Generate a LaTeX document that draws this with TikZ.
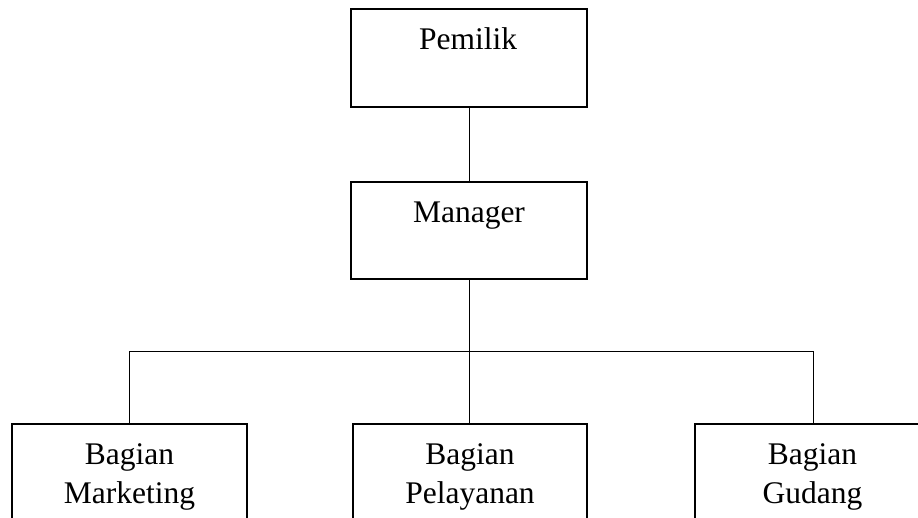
\documentclass[tikz,border=0pt]{standalone}
\usepackage{fontspec}
\setmainfont{Liberation Serif}
\begin{document}
\begin{tikzpicture}[x=1pt,y=-1pt,
  box/.style={draw=black,line width=2pt,rectangle,inner sep=0pt},
  lbl/.style={font=\fontsize{31.5}{39}\selectfont,align=center,inner sep=0pt,anchor=base},
  conn/.style={draw=black,line width=1pt}]
\useasboundingbox (0,0) rectangle (918,518);
\clip (0,0) rectangle (918,518);
\node[box,minimum width=236pt,minimum height=98pt] (pem) at (469,58) {};
\node[box,minimum width=236pt,minimum height=97pt] (man) at (469,230.5) {};
\node[box,minimum width=235pt,minimum height=98pt,anchor=north] (bl) at (129.5,423) {};
\node[box,minimum width=234pt,minimum height=98pt,anchor=north] (bm) at (470,423) {};
\node[box,minimum width=236pt,minimum height=98pt,anchor=north] (br) at (813,423) {};
\coordinate (bus) at (469,352);
\draw[conn] (pem.south) -- (man.north);
\draw[conn] (man.south) -- (man.south |- bm.north);
\draw[conn] (bl.north) -- (bl.north |- bus) -- (br.north |- bus) -- (br.north);
\node[lbl] (tpem) at (468,50) {Pemilik};
\node[lbl] (tman) at (469,223) {Manager};
\node[lbl] (tbl) at (129.5,503) {Bagian\\Marketing};
\node[lbl] (tbm) at (470,503) {Bagian\\Pelayanan};
\node[lbl] (tbr) at (812.5,503) {Bagian\\Gudang};
\end{tikzpicture}
\end{document}
